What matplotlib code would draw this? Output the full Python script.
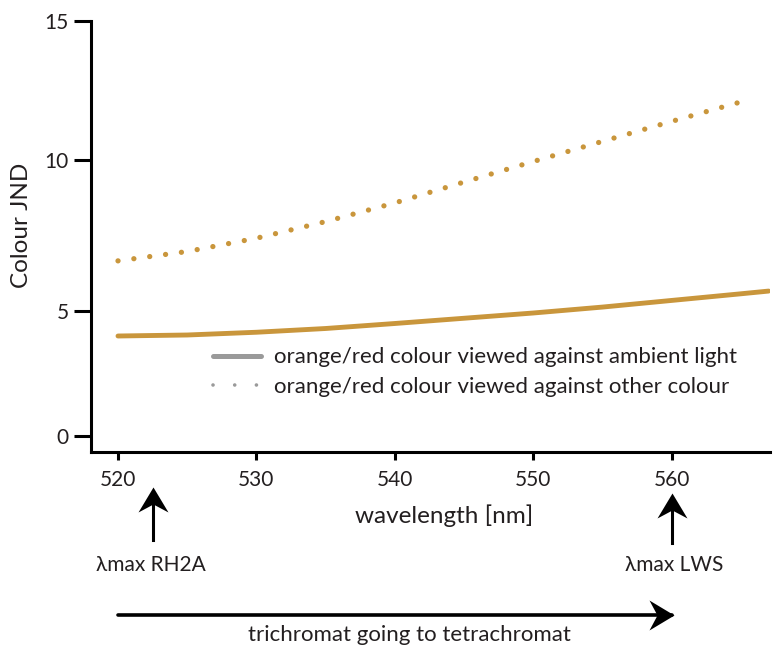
import numpy as np
import matplotlib
matplotlib.use('Agg')
import matplotlib.pyplot as plt
from matplotlib.lines import Line2D
from matplotlib.path import Path
from matplotlib.transforms import blended_transform_factory

# ---------------- data ----------------
wl_ambient = [520, 525, 530, 535, 540, 545, 550, 555, 560, 565, 567]
jnd_ambient = [4.0, 4.04, 4.15, 4.30, 4.50, 4.71, 4.92, 5.13, 5.35, 5.57, 5.66]
wl_other = [520, 525, 530, 535, 540, 545, 550, 555, 560, 565, 565.8]
jnd_other = [6.66, 6.97, 7.41, 7.96, 8.58, 9.27, 9.95, 10.67, 11.39, 12.09, 12.2]
x_ticks = [520, 530, 540, 550, 560]
y_ticks = [0, 5, 10, 15]
label_ambient = "orange/red colour viewed against ambient light"
label_other = "orange/red colour viewed against other colour"
lambda_rh2a = 522.5
lambda_lws = 560

plt.rcParams['font.family'] = ['Lato', 'DejaVu Sans']
TXT = '#231f20'
GOLD = '#c9963c'
GREY = '#9a9a9a'

W, H = 777, 646
fig = plt.figure(figsize=(W / 100, H / 100), dpi=100)
ax = fig.add_axes([91 / W, 1 - 452 / H, (770 - 91) / W, (452 - 21) / H])

# uneven vertical axis as drawn in the original figure (piecewise linear)
kv = np.array([-5, 0, 5, 10, 15, 20], dtype=float)
kp = np.array([-125, 0, 125, 276, 415, 554], dtype=float)
fwd = lambda v: np.interp(v, kv, kp)
inv = lambda p: np.interp(p, kp, kv)
ax.set_yscale('function', functions=(fwd, inv))

ax.plot(wl_ambient, jnd_ambient, color=GOLD, lw=3.5, solid_capstyle='round')
ax.plot(wl_other, jnd_other, color=GOLD, lw=3.8, linestyle=(0, (0.01, 3.02)),
        dash_capstyle='round')

ax.set_xlim(518.05, 567.1)
ax.set_ylim(-0.64, 15)
ax.set_xticks(x_ticks)
ax.set_yticks(y_ticks)
ax.yaxis.set_minor_locator(matplotlib.ticker.NullLocator())
for s in ['top', 'right']:
    ax.spines[s].set_visible(False)
for s in ['left', 'bottom']:
    ax.spines[s].set_linewidth(2.2)
    ax.spines[s].set_color('black')
ax.tick_params(axis='y', length=12, width=2.2, pad=4, labelsize=15, labelcolor=TXT)
ax.tick_params(axis='x', length=6, width=2.2, pad=7, labelsize=15, labelcolor=TXT)

fig.text(22 / W, 1 - 225 / H, 'Colour JND', rotation=90, ha='center', va='center',
         fontsize=17.5, color=TXT)
fig.text(444 / W, 1 - 516 / H, 'wavelength [nm]', ha='center', va='center',
         fontsize=17.5, color=TXT)

handles = [Line2D([], [], color=GREY, lw=3.6, solid_capstyle='round'),
           Line2D([], [], color=GREY, lw=2.6, linestyle=(0, (0.01, 6.0)),
                  dash_capstyle='round')]
fig.legend(handles, [label_ambient, label_other], loc='center left',
           bbox_to_anchor=(193 / W, 1 - 372 / H), frameon=False, fontsize=16,
           handlelength=2.15, handletextpad=0.6, labelspacing=0.42,
           labelcolor=TXT)

# ---------------- annotations below the axis ----------------
tr = blended_transform_factory(ax.transData, fig.transFigure)
fy = lambda p: 1 - p / H

head_up = Path([(0, 0), (-0.6, -1), (0, -0.68), (0.6, -1), (0, 0)],
               [Path.MOVETO, Path.LINETO, Path.LINETO, Path.LINETO, Path.CLOSEPOLY])
head_right = Path([(0, 0), (-1, 0.6), (-0.68, 0), (-1, -0.6), (0, 0)],
                  [Path.MOVETO, Path.LINETO, Path.LINETO, Path.LINETO, Path.CLOSEPOLY])

def varrow(x, y0, y1):
    ax.plot([x, x], [fy(y0), fy(y1 + 10)], color='black', lw=2.2, transform=tr,
            clip_on=False)
    ax.plot([x], [fy(y1)], marker=head_up, markersize=36, color='black',
            transform=tr, clip_on=False, markeredgewidth=0)

varrow(lambda_rh2a, 540, 487)
varrow(lambda_lws, 543, 493)

ax.plot([520, 560], [fy(615), fy(615)], color='black', lw=2.6, transform=tr,
        clip_on=False, solid_capstyle='round')
ax.plot([560.15], [fy(615)], marker=head_right, markersize=36, color='black',
        transform=tr, clip_on=False, markeredgewidth=0)

ax.text(lambda_rh2a - 0.1, fy(565), '\u03bbmax RH2A', transform=tr, ha='center',
        va='center', fontsize=15, color=TXT)
ax.text(lambda_lws + 0.2, fy(565), '\u03bbmax LWS', transform=tr, ha='center',
        va='center', fontsize=15, color=TXT)
fig.text(409 / W, fy(635), 'trichromat going to tetrachromat', ha='center',
         va='center', fontsize=16, color=TXT)

fig.savefig('out.png', dpi=100)
